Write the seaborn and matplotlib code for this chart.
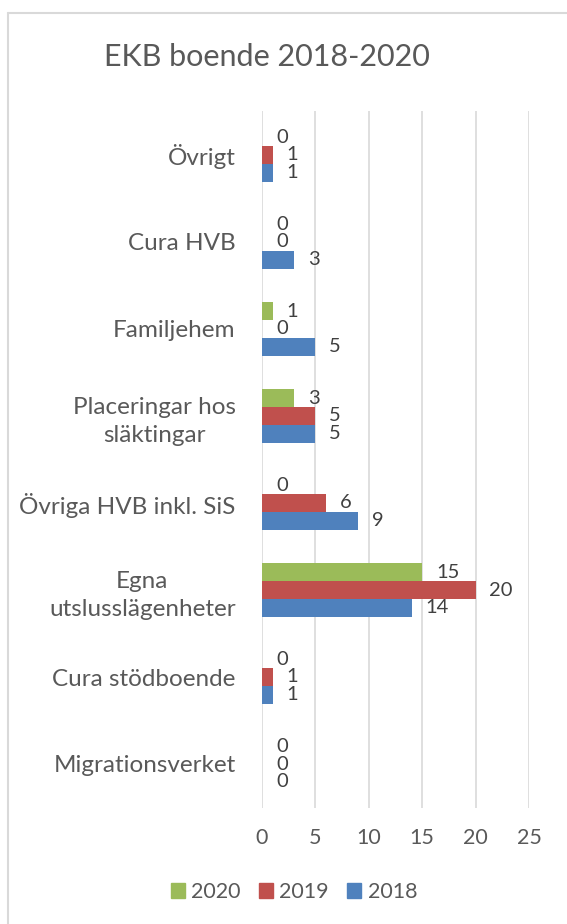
import matplotlib
matplotlib.use("Agg")
import matplotlib.pyplot as plt
import seaborn as sns
import pandas as pd
from matplotlib.lines import Line2D

categories = ["Övrigt", "Cura HVB", "Familjehem", "Placeringar hos\nsläktingar",
              "Övriga HVB inkl. SiS", "Egna\nutslusslägenheter", "Cura stödboende",
              "Migrationsverket"]
years = ["2020", "2019", "2018"]
v2020 = [0, 0, 1, 3, 0, 15, 0, 0]
v2019 = [1, 0, 0, 5, 6, 20, 1, 0]
v2018 = [1, 3, 5, 5, 9, 14, 1, 0]
colors = {"2020": "#9BBB59", "2019": "#C0504D", "2018": "#4F81BD"}
xticks = [0, 5, 10, 15, 20, 25]

rows = []
for yr, vals in zip(years, [v2020, v2019, v2018]):
    for c, v in zip(categories, vals):
        rows.append({"Kategori": c, "År": yr, "Antal": v})
df = pd.DataFrame(rows)

sns.set_theme(style="white")
plt.rcParams["font.family"] = ["Lato", "DejaVu Sans"]

fig = plt.figure(figsize=(5.67, 9.24), dpi=100)
ax = fig.add_axes([262/567, 1-807.5/924, (529-262)/567, (807.5-111.5)/924])

sns.barplot(data=df, y="Kategori", x="Antal", hue="År", hue_order=years,
            order=categories, palette=colors, orient="h", width=0.62,
            gap=0, saturation=1, ax=ax, legend=False, edgecolor="none")

ax.set_xlim(0, 25)
ax.set_ylim(len(categories)-0.5, -0.5)
ax.set_xticks(xticks)
ax.set_xticklabels([str(t) for t in xticks])
ax.grid(axis="x", color="#D9D9D9", linewidth=1.2)
ax.set_axisbelow(True)
for s in ax.spines.values():
    s.set_visible(False)
ax.set_xlabel("")
ax.set_ylabel("")
ax.tick_params(axis="x", length=0, pad=15, labelsize=15.5, labelcolor="#595959")
ax.tick_params(axis="y", length=0, pad=19, labelsize=17.5, labelcolor="#595959")
for lbl in ax.get_yticklabels():
    lbl.set_multialignment("center")
    lbl.set_linespacing(1.42)

for cont in ax.containers:
    ax.bar_label(cont, fmt="%g", padding=10, fontsize=14.5, color="#404040")

fig.text(267/567, 1-57/924, "EKB boende 2018-2020", ha="center", va="center",
         fontsize=22, color="#595959")

handles = [plt.Rectangle((0, 0), 1, 1, color=colors[y]) for y in years]
fig.legend(handles, years, loc="center", bbox_to_anchor=(294/567, 1-892/924),
           ncol=3, frameon=False, fontsize=15.5, labelcolor="#595959",
           handlelength=0.65, handleheight=0.65, handletextpad=0.3, columnspacing=0.85)

fig.add_artist(Line2D([8/567, 8/567], [0, 1-13/924], transform=fig.transFigure,
                      color="#D9D9D9", linewidth=1.5))
fig.add_artist(Line2D([8/567, 1], [1-13/924, 1-13/924], transform=fig.transFigure,
                      color="#D9D9D9", linewidth=1.5))

fig.savefig("out.png", dpi=100)
